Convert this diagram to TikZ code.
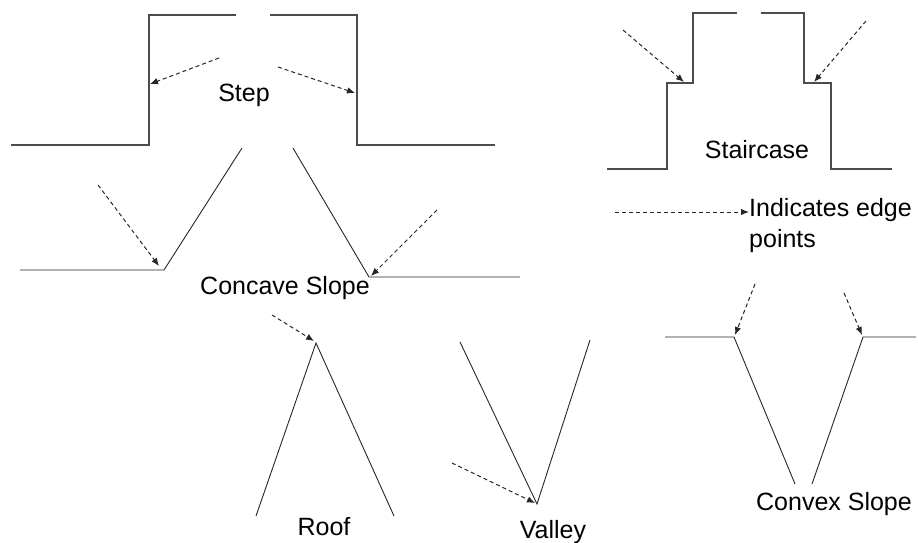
\documentclass[tikz,border=0pt]{standalone}
\usepackage{fontspec}
\setmainfont{Liberation Sans}
\usetikzlibrary{arrows.meta}

\tikzset{
	profile/.style={line width=1.3pt, black!70},
	slope/.style={line width=0.9pt, black!85},
	edgearrow/.style={->, line width=1pt, black!85, dash pattern=on 4pt off 3pt},
	lbl/.style={font=\fontsize{25}{30}\selectfont, inner sep=0pt, anchor=base},
}

\begin{document}
\begin{tikzpicture}[x=1pt,y=-1pt,>={Latex[length=8pt,width=6.5pt]}]
				\useasboundingbox (0,0) rectangle (918,543);
				
				% draw step
				\draw[profile] (11,145) -- (149,145) -- (149,15) -- (236,15);
				\draw[profile] (270,15) -- (357,15) -- (357,145) -- (495,145);
				\node[lbl] (step) at (244,101) {Step};
				\draw[edgearrow] (219,58) -- (150,84);
				\draw[edgearrow] (278,67) -- (355,93);
				
				% draw staircase
				\draw[profile] (607,169) -- (667,169) -- (667,83) -- (693,83) -- (693,13) -- (737,13);
				\draw[profile] (761,13) -- (804,13) -- (804,83) -- (831,83) -- (831,169) -- (892,169);
				\node[lbl] (stair) at (757,158) {Staircase};
				\draw[edgearrow] (623,30) -- (684,82);
				\draw[edgearrow] (866,21) -- (814,82);
				
				% draw concave slope
				\draw[slope] (20,270) -- (164,270) -- (242,148);
				\draw[slope] (293,148) -- (369,277) -- (520,277);
				\node[lbl] (concave) at (285,294) {Concave Slope};
				\draw[edgearrow] (98,185) -- (159,266);
				\draw[edgearrow] (437,210) -- (371,276);
				
				% draw legend
				\node[lbl, anchor=base west] (legend) at (749,216) {Indicates edge};
				\node[lbl, anchor=base west] (legendb) at ([yshift=-31pt]legend.base west) {points};
				\coordinate (legendtip) at ([yshift=4pt]legend.base west);
				\draw[edgearrow] (615,212) -- (legendtip);
				
				% draw roof
				\draw[slope] (256,516) -- (316,343) -- (394,516);
				\node[lbl] (roof) at (324,535) {Roof};
				\draw[edgearrow] (272,315) -- (314,341);
				
				% draw valley
				\draw[slope] (460,342) -- (537,504) -- (590,340);
				\node[lbl] (valley) at (553,538) {Valley};
				\draw[edgearrow] (452,463) -- (535,503);
				
				% draw convex slope
				\draw[slope] (665,337) -- (734,337) -- (795,484);
				\draw[slope] (812,484) -- (863,337) -- (916,337);
				\node[lbl] (convex) at (834,510) {Convex Slope};
				\draw[edgearrow] (755,284) -- (735,335);
				\draw[edgearrow] (844,293) -- (862,335);
			\end{tikzpicture}
\end{document}
